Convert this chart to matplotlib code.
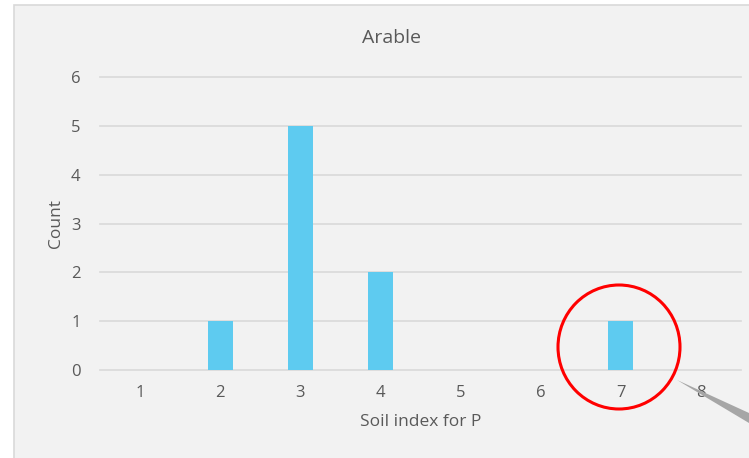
import matplotlib.pyplot as plt
import matplotlib.patches as patches

plt.rcParams['font.family'] = ['Open Sans', 'DejaVu Sans']

# soil index classes and how many fields fall in each
categories = ['1', '2', '3', '4', '5', '6', '7', '8']
counts = [0, 1, 5, 2, 0, 0, 1, 0]

W, H = 749, 458
fig = plt.figure(figsize=(W / 100, H / 100), dpi=100)
fig.patch.set_facecolor('white')

# chart area background (runs off the right / bottom edge like the screenshot)
bg = patches.Rectangle((14 / W, -0.1), 1.0, 1 - 5 / H + 0.1, transform=fig.transFigure,
                       facecolor='#f2f2f2', edgecolor='#d9d9d9', linewidth=1.2, zorder=-10)
fig.patches.append(bg)

ax = fig.add_axes([100 / W, 1 - 370 / H, 641 / W, (370 - 77) / H])
ax.set_facecolor('none')
ax.set_zorder(1)

x = list(range(len(categories)))
ax.bar(x, counts, width=0.31, color='#5ecbf0', zorder=3)

ax.set_xlim(-0.5, len(categories) - 0.5)
ax.set_ylim(0, 6)
ax.set_xticks(x)
ax.set_xticklabels(categories)
ax.set_yticks(range(0, 7))
ax.yaxis.grid(True, color='#d9d9d9', linewidth=1.2, clip_on=False)
ax.set_axisbelow(True)
for s in ax.spines.values():
    s.set_visible(False)
ax.tick_params(length=0, colors='#595959', labelsize=12)
ax.tick_params(axis='x', pad=11)
ax.tick_params(axis='y', pad=14)

ax.set_xlabel('Soil index for P', color='#595959', fontsize=12.5, labelpad=9)
ax.set_ylabel('Count', color='#595959', fontsize=12.5, labelpad=5)
fig.text(392 / W, 1 - 38 / H, 'Arable', ha='center', va='center', color='#595959', fontsize=14)

# red highlight circle around index 7 and the grey callout pointer
circ = patches.Ellipse((619 / W, 1 - 347 / H), 122 / W, 124 / H, transform=fig.transFigure,
                       fill=False, edgecolor='#ff0000', linewidth=2.2, zorder=5)
fig.patches.append(circ)
pointer = patches.Polygon([(677 / W, 1 - 380 / H), (749 / W, 1 - 413 / H), (749 / W, 1 - 423 / H)],
                          closed=True, transform=fig.transFigure, facecolor='#a6a6a6',
                          edgecolor='none', zorder=5)
fig.patches.append(pointer)

fig.savefig('out.png', dpi=100)
